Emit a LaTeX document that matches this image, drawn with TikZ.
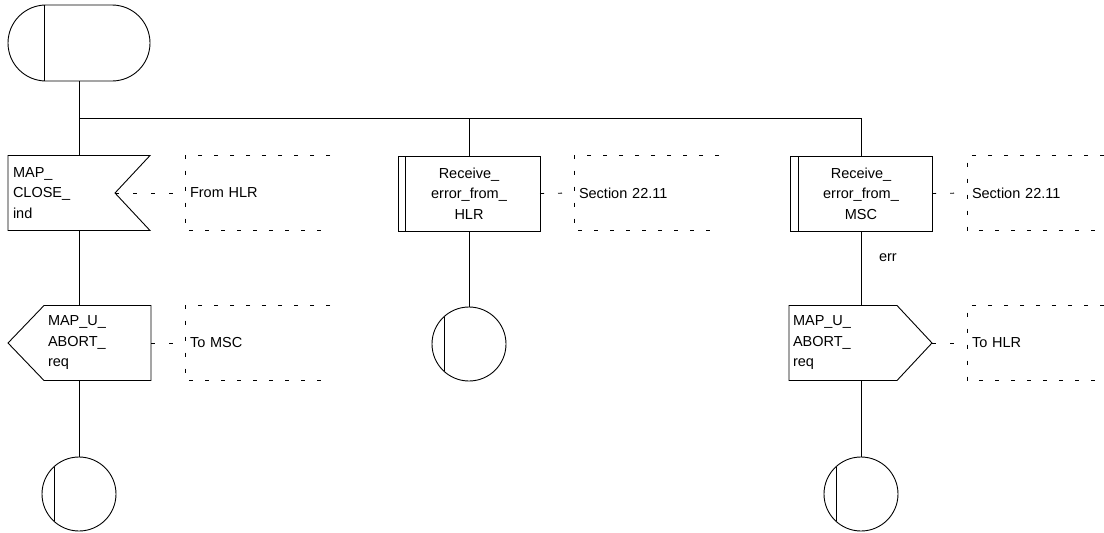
\documentclass[tikz,border=0pt]{standalone}
\usepackage{fontspec}
\setmainfont{Liberation Sans}
\usetikzlibrary{shapes.misc}
\begin{document}
\begin{tikzpicture}[x=1pt,y=-1pt,line width=0.9pt,
  every node/.style={font=\fontsize{14.5}{20.5}\selectfont, outer sep=0pt, inner sep=0pt},
  symb/.style={minimum height=75pt, draw=none},
  comm/.style={minimum width=145pt, minimum height=75pt, anchor=west, text width=135pt, align=left, draw=none},
  cdash/.style={dash pattern=on 4pt off 12pt},
  ldash/.style={dash pattern=on 4pt off 14pt},
  endc/.style={circle, draw, minimum size=74pt}]
\useasboundingbox (0,0) rectangle (1104,533);

% start
\node[draw, rounded rectangle, minimum width=142pt, minimum height=76pt] (start) at (79,43) {};
\draw ([xshift=-35pt]start.north) -- ([xshift=-35pt]start.south);
\coordinate (j1) at (79,118);
\coordinate (j2) at (469,118);
\coordinate (j3) at (861,118);
\draw (start.south) -- (j1) -- (j3);

% branch 1
\node[symb, minimum width=142pt, text width=132pt, align=left] (in1) at (79,193) {MAP\_\\CLOSE\_\\ind};
\draw (in1.north west) -- (in1.north east) -- ([xshift=-35pt]in1.east) -- (in1.south east) -- (in1.south west) -- cycle;
\draw (j1) -- (in1.north);
\node[comm] (c1) at (185,193) {From HLR};
\draw[cdash] (c1.north east) -- (c1.north west) -- (c1.south west) -- (c1.south east);
\draw[ldash] ([xshift=-35pt]in1.east) -- (c1.west);

\node[symb, minimum width=107pt, text width=99pt, align=left] (out1) at (97.5,343) {MAP\_U\_\\ABORT\_\\req};
\draw (out1.north west) -- (out1.north east) -- (out1.south east) -- (out1.south west) -- ([xshift=-36pt]out1.west) -- cycle;
\draw (in1.south) -- (in1.south |- out1.north);
\node[comm] (c4) at (185,343) {To MSC};
\draw[cdash] (c4.north east) -- (c4.north west) -- (c4.south west) -- (c4.south east);
\draw[ldash] (out1.east) -- (c4.west);

\node[endc] (e1) at (79,494) {};
\draw (in1.south |- out1.south) -- (e1.north);
\draw ([xshift=-25pt,yshift=27pt]e1.center) -- ([xshift=-25pt,yshift=-27pt]e1.center);

% branch 2
\node[symb, minimum width=142pt, text width=132pt, align=center] (p1) at (469,193.5) {Receive\_\\error\_from\_\\HLR};
\draw (p1.north west) rectangle (p1.south east);
\draw ([xshift=7pt]p1.north west) -- ([xshift=7pt]p1.south west);
\draw (j2) -- (p1.north);
\node[comm] (c2) at (574,193) {Section 22.11};
\draw[cdash] (c2.north east) -- (c2.north west) -- (c2.south west) -- (c2.south east);
\draw[ldash] (p1.east) -- (c2.west);

\node[endc] (e0) at (469,344) {};
\draw (p1.south) -- (e0.north);
\draw ([xshift=-25pt,yshift=27pt]e0.center) -- ([xshift=-25pt,yshift=-27pt]e0.center);

% branch 3
\node[symb, minimum width=142pt, text width=132pt, align=center] (p2) at (861,193.5) {Receive\_\\error\_from\_\\MSC};
\draw (p2.north west) rectangle (p2.south east);
\draw ([xshift=8pt]p2.north west) -- ([xshift=8pt]p2.south west);
\draw (j3) -- (p2.north);
\node[comm, minimum width=137pt, text width=127pt] (c3) at (967,193) {Section 22.11};
\draw[cdash] (c3.north east) -- (c3.north west) -- (c3.south west) -- (c3.south east);
\draw[ldash] (p2.east) -- (c3.west);

\node[symb, minimum width=108pt, text width=100pt, align=left] (out2) at (843,343) {MAP\_U\_\\ABORT\_\\req};
\draw (out2.north west) -- (out2.north east) -- ([xshift=35pt]out2.east) -- (out2.south east) -- (out2.south west) -- cycle;
\draw (p2.south) -- (p2.south |- out2.north);
\node[anchor=west] (err) at (879,258) {err};
\node[comm, minimum width=137pt, text width=127pt] (c5) at (967,343) {To HLR};
\draw[cdash] (c5.north east) -- (c5.north west) -- (c5.south west) -- (c5.south east);
\draw[ldash] ([xshift=35pt]out2.east) -- (c5.west);

\node[endc] (e2) at (861,494) {};
\draw (p2.south |- out2.south) -- (e2.north);
\draw ([xshift=-25pt,yshift=27pt]e2.center) -- ([xshift=-25pt,yshift=-27pt]e2.center);
\end{tikzpicture}
\end{document}
